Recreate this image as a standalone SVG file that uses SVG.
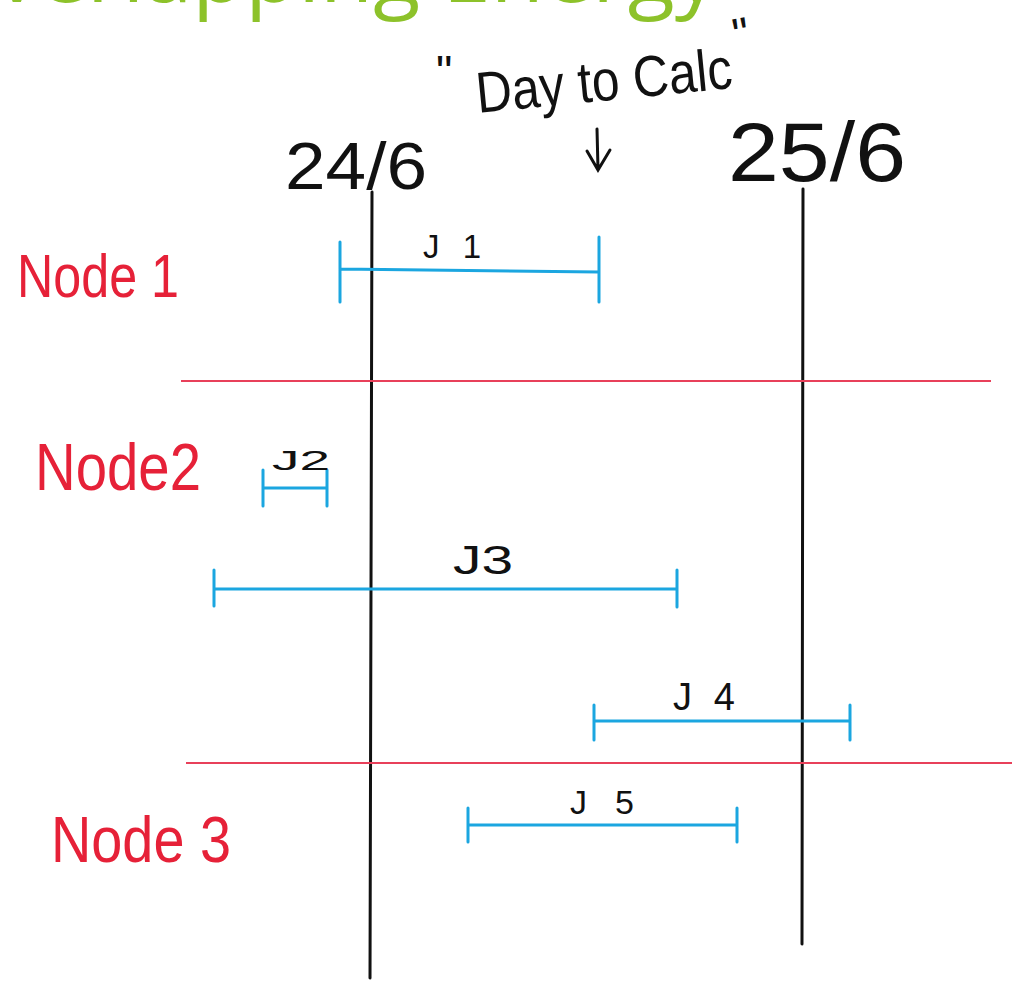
<svg xmlns="http://www.w3.org/2000/svg" width="1012" height="981" viewBox="0 0 1012 981">
<style>
.hand{font-family:"Liberation Sans","DejaVu Sans",sans-serif;fill:#111}
.red{font-family:"Liberation Sans","DejaVu Sans",sans-serif;fill:#e62138}
.axis{stroke:#111;stroke-width:3;fill:none;stroke-linecap:round}
.sep{stroke:#e8405a;stroke-width:2;fill:none}
.job{stroke:#1ba6e0;stroke-width:3;fill:none;stroke-linecap:round}
.title{font-family:"Open Sans","Noto Sans",sans-serif;fill:#8dc22a}
</style>
<rect width="1012" height="981" fill="#fff"/>
<text class="title" x="-72" y="2" font-size="85" textLength="790" lengthAdjust="spacingAndGlyphs">Overlapping Energy</text>

<g id="daylabel">
<text class="hand" x="436" y="88" font-size="46">"</text>
<text class="hand" x="478" y="113" font-size="58" textLength="257" lengthAdjust="spacingAndGlyphs" transform="rotate(-5.6 478 113)">Day to Calc</text>
<text class="hand" x="734" y="50" font-size="46" transform="rotate(-10 740 40)">"</text>
</g>

<g id="connectors">
<path class="axis" d="M597 129 L598 169 M587 151 L598 170 L610 150" stroke-width="2.5"/>
<line class="axis" x1="372" y1="192" x2="370" y2="978"/>
<line class="axis" x1="803" y1="189" x2="802" y2="944"/>
<line class="sep" x1="181" y1="381" x2="991" y2="381"/>
<line class="sep" x1="186" y1="763" x2="1012" y2="763"/>
</g>

<g id="date1"><text class="hand" x="285" y="189" font-size="66" textLength="142" lengthAdjust="spacingAndGlyphs">24/6</text></g>
<g id="date2"><text class="hand" x="728" y="181" font-size="84" textLength="178" lengthAdjust="spacingAndGlyphs">25/6</text></g>

<g id="node1"><text class="red" x="17" y="297" font-size="62" textLength="162" lengthAdjust="spacingAndGlyphs">Node 1</text></g>
<g id="node2"><text class="red" x="35" y="490" font-size="66" textLength="166" lengthAdjust="spacingAndGlyphs">Node2</text></g>
<g id="node3"><text class="red" x="51" y="862" font-size="64" textLength="180" lengthAdjust="spacingAndGlyphs">Node 3</text></g>

<g id="J1">
<path class="job" d="M340 242 V302 M340 269 L599 272 M599 237 V302"/>
<text class="hand" x="423" y="258" font-size="33" textLength="58" lengthAdjust="spacing">J1</text>
</g>
<g id="J2">
<path class="job" d="M263 470 V506 M263 488 H327 M327 470 V506"/>
<text class="hand" x="272" y="470" font-size="28" textLength="58" lengthAdjust="spacingAndGlyphs">J2</text>
</g>
<g id="J3">
<path class="job" d="M214 570 V606 M214 589 H677 M677 570 V607"/>
<text class="hand" x="453" y="574" font-size="40" textLength="60" lengthAdjust="spacingAndGlyphs">J3</text>
</g>
<g id="J4">
<path class="job" d="M594 705 V740 M594 721 H850 M850 705 V740"/>
<text class="hand" x="673" y="710" font-size="38" textLength="62" lengthAdjust="spacing">J4</text>
</g>
<g id="J5">
<path class="job" d="M468 808 V842 M468 825 H737 M737 808 V842"/>
<text class="hand" x="570" y="814" font-size="34" textLength="64" lengthAdjust="spacing">J5</text>
</g>
</svg>
